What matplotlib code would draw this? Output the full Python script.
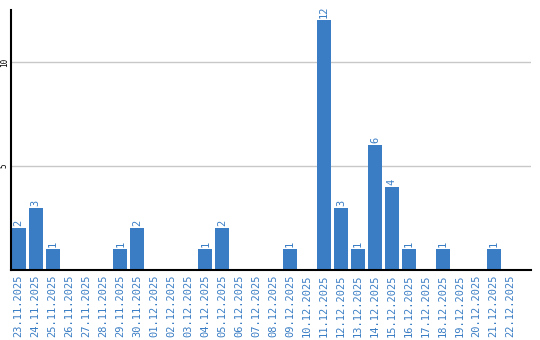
import matplotlib
matplotlib.use('Agg')
import matplotlib.pyplot as plt

dates = ['23.11.2025', '24.11.2025', '25.11.2025', '26.11.2025', '27.11.2025',
         '28.11.2025', '29.11.2025', '30.11.2025', '01.12.2025', '02.12.2025',
         '03.12.2025', '04.12.2025', '05.12.2025', '06.12.2025', '07.12.2025',
         '08.12.2025', '09.12.2025', '10.12.2025', '11.12.2025', '12.12.2025',
         '13.12.2025', '14.12.2025', '15.12.2025', '16.12.2025', '17.12.2025',
         '18.12.2025', '19.12.2025', '20.12.2025', '21.12.2025', '22.12.2025']
counts = [2, 3, 1, 0, 0, 0, 1, 2, 0, 0, 0, 1, 2, 0, 0, 0, 1, 0, 12, 3,
          1, 6, 4, 1, 0, 1, 0, 0, 1, 0]
yticks = [5, 10]

blue = '#3a7dc4'

fig = plt.figure(figsize=(5.4, 3.4), dpi=100)
ax = fig.add_axes([11 / 540, 70 / 340, 520 / 540, 260 / 340])

x = list(range(len(dates)))
ax.bar(x, counts, width=0.82, color=blue, zorder=2)

for xi, v in zip(x, counts):
    if v > 0:
        ax.text(xi, v + 0.1, str(v), rotation=90, ha='center', va='bottom',
                color=blue, fontsize=7.5, family='DejaVu Sans Mono')

ax.set_xlim(-0.45, 30.2)
ax.set_ylim(0, 12.5)
ax.set_yticks(yticks)
ax.set_yticklabels([str(t) for t in yticks], rotation=90, va='center',
                   fontsize=5.5, family='DejaVu Sans Mono')
ax.set_xticks(x)
ax.set_xticklabels(dates, rotation=90, color=blue, fontsize=7.5,
                   family='DejaVu Sans Mono')
ax.tick_params(axis='x', length=0, pad=3)
ax.tick_params(axis='y', length=0, pad=1.5)

ax.grid(axis='y', color='#c8c8c8', linewidth=1, zorder=0)
ax.set_axisbelow(True)
for s in ['top', 'right']:
    ax.spines[s].set_visible(False)
ax.spines['left'].set_linewidth(1.5)
ax.spines['bottom'].set_linewidth(1.5)

fig.savefig('out.png', dpi=100)
